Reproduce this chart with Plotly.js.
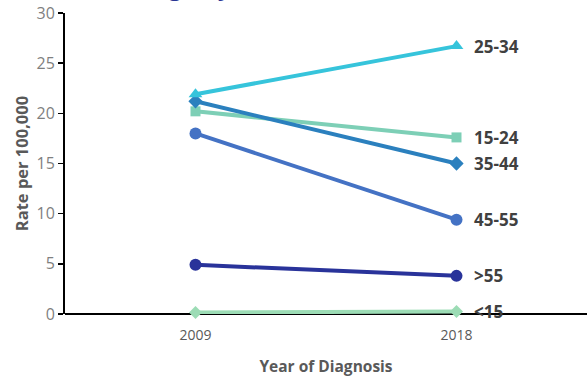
<!DOCTYPE html>
<html>
<head>
<meta charset="utf-8">
<script src="https://cdn.plot.ly/plotly-3.0.1.min.js"></script>
<style>html,body{margin:0;padding:0;background:#fff;}#chart{width:587px;height:377px;}</style>
</head>
<body>
<div id="chart"></div>
<script>
const years = ['2009', '2018'];
const groups = ['25-34', '15-24', '35-44', '45-55', '>55', '<15'];
const rate_25_34 = [21.9, 26.7];
const rate_15_24 = [20.2, 17.6];
const rate_35_44 = [21.2, 15.0];
const rate_45_55 = [18.0, 9.4];
const rate_55plus = [4.9, 3.8];
const rate_under15 = [0.15, 0.25];
const yTicks = [0, 5, 10, 15, 20, 25, 30];

const seriesValues = [rate_25_34, rate_15_24, rate_35_44, rate_45_55, rate_55plus, rate_under15];
const colors = ['#36C4DB', '#7DCFB6', '#2B80BE', '#4472C4', '#29339A', '#9CDCB5'];
const symbols = ['triangle-up', 'square', 'diamond', 'circle', 'circle', 'diamond'];
const sizes = [12, 10, 11, 12, 12, 10];

const esc = s => s.replace(/&/g, '&amp;').replace(/</g, '&lt;').replace(/>/g, '&gt;');

const order = [5, 4, 3, 1, 2, 0];
const traces = order.map(i => ({
  x: years,
  y: seriesValues[i],
  type: 'scatter',
  mode: 'lines+markers',
  name: esc(groups[i]),
  line: {color: colors[i], width: 4},
  marker: {color: colors[i], symbol: symbols[i], size: sizes[i]},
  hoverinfo: 'skip',
  cliponaxis: false
}));

const annotations = groups.map((g, i) => ({
  x: 1,
  y: seriesValues[i][1],
  xref: 'x', yref: 'y',
  text: '<b>' + esc(g) + '</b>',
  showarrow: false,
  xanchor: 'left',
  yanchor: 'middle',
  xshift: 15,
  font: {family: 'Open Sans, sans-serif', size: 17, color: '#404040'}
}));

annotations.push({
  xref: 'paper', yref: 'paper',
  x: -0.04, y: 1.0,
  xanchor: 'left', yanchor: 'bottom',
  yshift: 9,
  text: '<b>Rate Change by Year</b>',
  showarrow: false,
  font: {family: 'Open Sans, sans-serif', size: 24, color: '#2A3593'}
});

const layout = {
  width: 587, height: 377,
  margin: {l: 65, r: 0, t: 13, b: 63},
  paper_bgcolor: '#ffffff',
  plot_bgcolor: '#ffffff',
  showlegend: false,
  xaxis: {
    type: 'category',
    range: [-0.5, 1.5],
    showgrid: false,
    zeroline: false,
    showline: false,
    ticks: '',
    tickfont: {family: 'Open Sans, sans-serif', size: 14, color: '#595959'},
    ticklabelstandoff: 11,
    title: {text: '<b>Year of Diagnosis</b>', font: {family: 'Open Sans, sans-serif', size: 15.5, color: '#595959'}, standoff: 18}
  },
  yaxis: {
    range: [0, 30],
    tickvals: yTicks,
    ticktext: yTicks.map(String),
    showgrid: false,
    zeroline: true,
    zerolinecolor: '#000000',
    zerolinewidth: 2,
    showline: true,
    linecolor: '#000000',
    linewidth: 2,
    ticks: 'outside',
    ticklen: 5,
    tickcolor: '#000000',
    tickwidth: 1.5,
    tickfont: {family: 'Open Sans, sans-serif', size: 16, color: '#7F7F7F'},
    title: {text: '<b>Rate per 100,000</b>', font: {family: 'Open Sans, sans-serif', size: 16.5, color: '#595959'}, standoff: 4}
  },
  annotations: annotations
};

Plotly.newPlot('chart', traces, layout, {displayModeBar: false, staticPlot: true});
</script>
</body>
</html>
